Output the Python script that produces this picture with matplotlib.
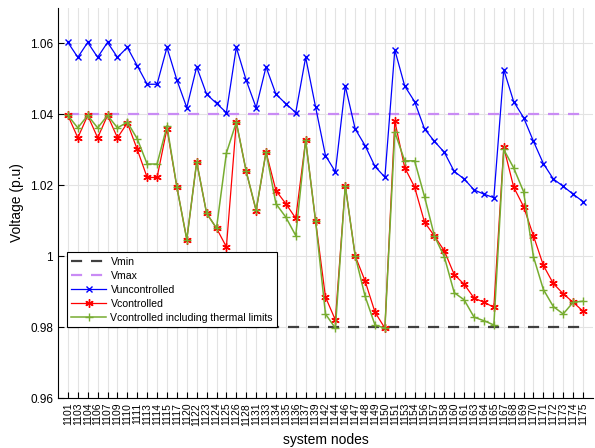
import matplotlib.pyplot as plt
from matplotlib.ticker import FuncFormatter

plt.rcParams['font.family'] = ['Liberation Sans', 'DejaVu Sans']

nodes = ['1101', '1103', '1104', '1106', '1107', '1109', '1110', '1111', '1113', '1114',
         '1115', '1117', '1120', '1122', '1123', '1124', '1125', '1126', '1128', '1131',
         '1133', '1134', '1135', '1136', '1137', '1139', '1142', '1144', '1146', '1147',
         '1148', '1149', '1150', '1151', '1153', '1154', '1156', '1157', '1158', '1160',
         '1161', '1163', '1164', '1165', '1167', '1168', '1169', '1170', '1171', '1172',
         '1173', '1174', '1175']

v_min = 0.98
v_max = 1.04

v_uncontrolled = [1.0603, 1.0561, 1.0603, 1.0561, 1.0603, 1.0561, 1.0589, 1.0537, 1.0485, 1.0485,
                  1.0589, 1.0497, 1.0419, 1.0534, 1.0457, 1.0431, 1.0405, 1.0589, 1.0496, 1.0419,
                  1.0534, 1.0457, 1.0430, 1.0405, 1.0561, 1.0421, 1.0284, 1.0238, 1.0480, 1.0359,
                  1.0312, 1.0253, 1.0223, 1.0582, 1.0480, 1.0436, 1.0359, 1.0324, 1.0293, 1.0239,
                  1.0218, 1.0187, 1.0175, 1.0165, 1.0526, 1.0436, 1.0391, 1.0324, 1.0261, 1.0218,
                  1.0197, 1.0175, 1.0154]

v_controlled = [1.0397, 1.0334, 1.0397, 1.0334, 1.0397, 1.0334, 1.0376, 1.0301, 1.0222, 1.0222,
                1.0360, 1.0195, 1.0047, 1.0266, 1.0121, 1.0079, 1.0026, 1.0378, 1.0239, 1.0128,
                1.0294, 1.0185, 1.0148, 1.0107, 1.0327, 1.0100, 0.9885, 0.9820, 1.0199, 1.0001,
                0.9930, 0.9842, 0.9797, 1.0381, 1.0250, 1.0195, 1.0096, 1.0057, 1.0015, 0.9948,
                0.9921, 0.9882, 0.9870, 0.9856, 1.0307, 1.0195, 1.0140, 1.0057, 0.9974, 0.9923,
                0.9894, 0.9870, 0.9845]

v_thermal = [1.0397, 1.0362, 1.0397, 1.0362, 1.0397, 1.0362, 1.0378, 1.0331, 1.0260, 1.0260,
             1.0367, 1.0195, 1.0047, 1.0266, 1.0121, 1.0079, 1.0291, 1.0378, 1.0239, 1.0130,
             1.0294, 1.0148, 1.0110, 1.0058, 1.0327, 1.0100, 0.9837, 0.9797, 1.0199, 1.0001,
             0.9887, 0.9806, 0.9797, 1.0350, 1.0269, 1.0269, 1.0168, 1.0057, 0.9998, 0.9897,
             0.9877, 0.9828, 0.9818, 0.9806, 1.0301, 1.0249, 1.0182, 0.9998, 0.9906, 0.9858,
             0.9837, 0.9870, 0.9873]

x = list(range(len(nodes)))

fig = plt.figure(figsize=(5.95, 4.48), dpi=100)
ax = fig.add_axes([0.0975, 0.1116, 0.899, 0.8705])

ax.plot([x[0], x[-1]], [v_min, v_min], '--', color='#404040', lw=1.6, dashes=(5, 4), label='Vmin')
ax.plot([x[0], x[-1]], [v_max, v_max], '--', color='#c98bf5', lw=1.6, dashes=(5, 4), label='Vmax')
ax.plot(x, v_uncontrolled, color='#0000ff', lw=0.9, marker='x', ms=4.5, mew=1.0, label='Vuncontrolled')
ax.plot(x, v_controlled, color='#ff0000', lw=0.9, marker=(6, 2, 0), ms=6, mew=1.0, label='Vcontrolled')
ax.plot(x, v_thermal, color='#77ac30', lw=1.1, marker='+', ms=6, mew=1.0,
        label='Vcontrolled including thermal limits')

ax.set_xlim(-1, len(nodes))
ax.set_ylim(0.96, 1.07)
ax.set_xticks(x)
ax.set_xticklabels(nodes, rotation=90, fontsize=7.5)
ax.set_yticks([0.96, 0.98, 1.0, 1.02, 1.04, 1.06])
ax.yaxis.set_major_formatter(FuncFormatter(lambda v, p: '%g' % v))
ax.tick_params(axis='y', labelsize=8.5)
ax.tick_params(direction='in', length=4, width=0.8)
ax.grid(True, color='#e3e3e3', lw=0.8)
ax.set_axisbelow(True)
for s in ['top', 'right']:
    ax.spines[s].set_visible(False)

ax.set_xlabel('system nodes', fontsize=10, labelpad=5)
ax.set_ylabel('Voltage (p.u)', fontsize=10)

leg = ax.legend(loc='lower left', bbox_to_anchor=(0.0168, 0.182), fontsize=7.6, fancybox=False,
                edgecolor='black', framealpha=1, borderpad=0.42, labelspacing=0.38,
                handlelength=3.3, handletextpad=0.4, borderaxespad=0)
leg.get_frame().set_linewidth(0.8)

fig.savefig('out.png', dpi=100)
